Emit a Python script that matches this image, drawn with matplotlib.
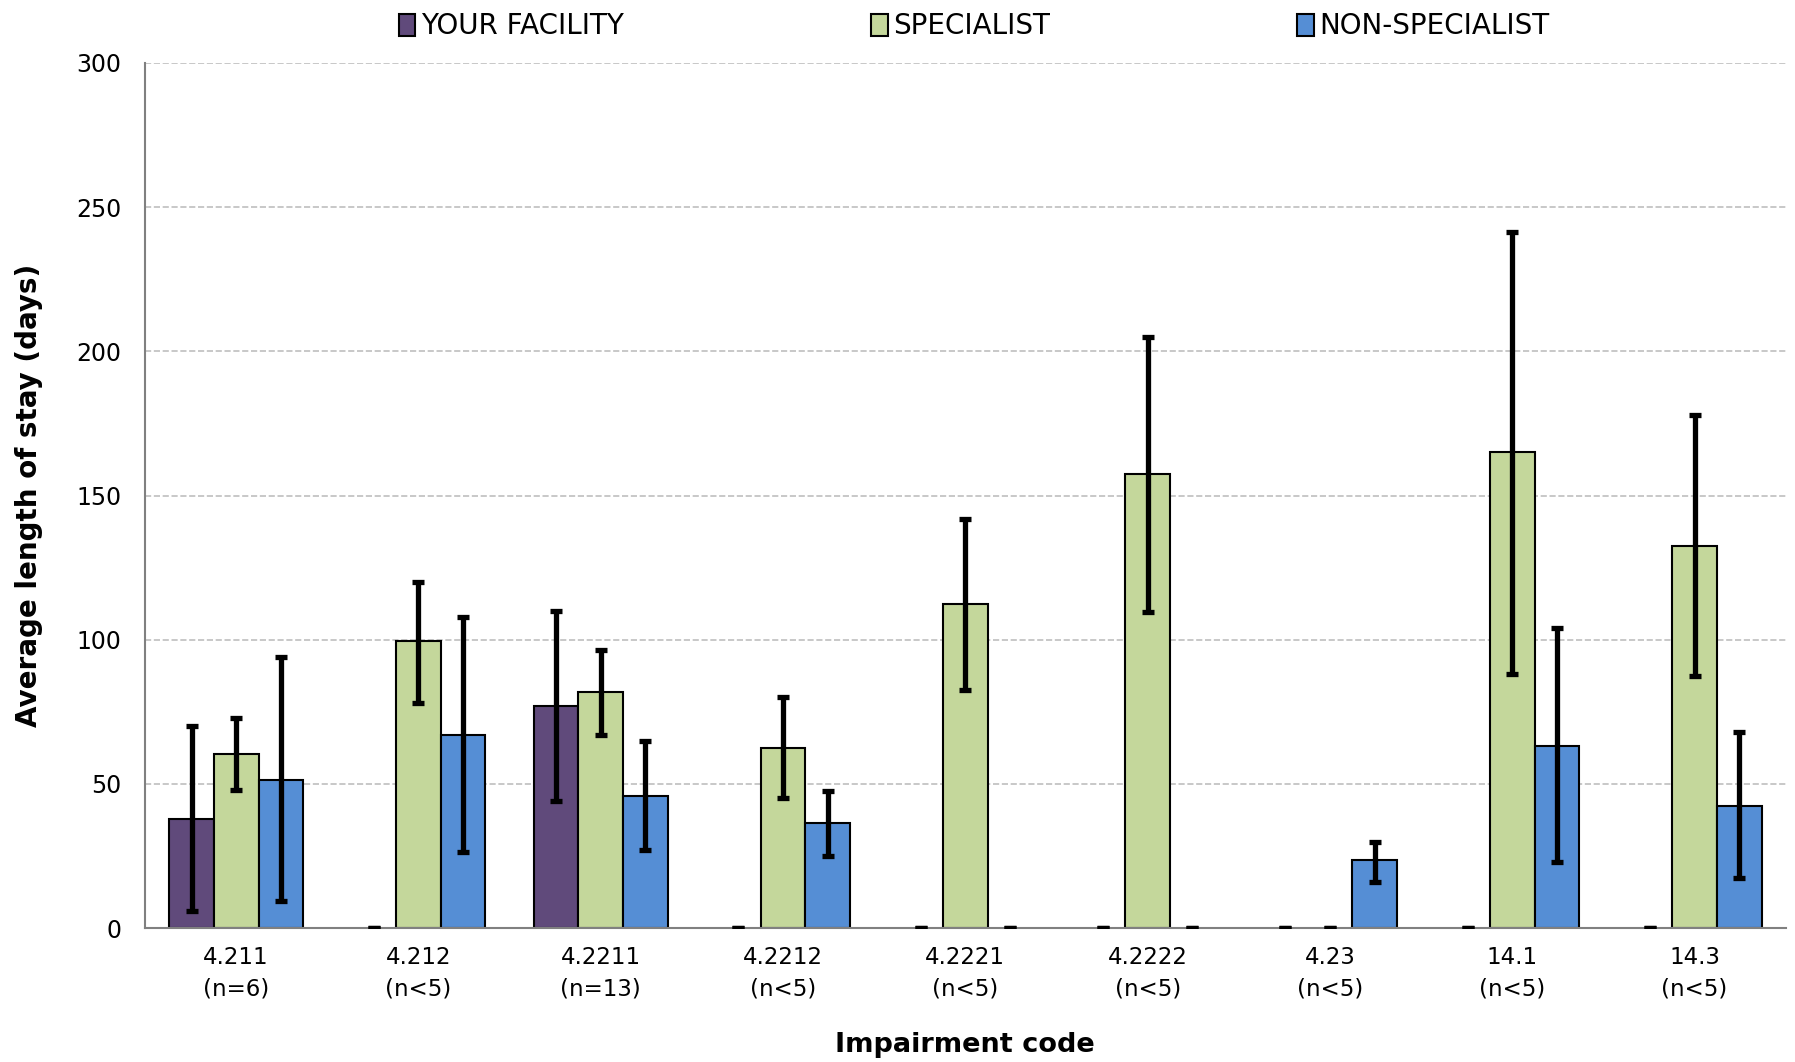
import matplotlib.pyplot as plt
import numpy as np

codes = ["4.211\n(n=6)", "4.212\n(n<5)", "4.2211\n(n=13)", "4.2212\n(n<5)", "4.2221\n(n<5)",
         "4.2222\n(n<5)", "4.23\n(n<5)", "14.1\n(n<5)", "14.3\n(n<5)"]

facility = [38, 0, 77, 0, 0, 0, 0, 0, 0]
facility_lo = [6, 0, 44, 0, 0, 0, 0, 0, 0]
facility_hi = [70, 0, 110, 0, 0, 0, 0, 0, 0]

specialist = [60.5, 99.5, 82, 62.5, 112.5, 157.5, 0, 165, 132.5]
specialist_lo = [48, 78, 67, 45, 82.5, 109.5, 0, 88, 87.5]
specialist_hi = [73, 120, 96.5, 80, 142, 205, 0, 241.5, 178]

nonspec = [51.5, 67, 46, 36.5, 0, 0, 23.5, 63, 42.5]
nonspec_lo = [9.5, 26.5, 27, 25, 0, 0, 16, 23, 17.5]
nonspec_hi = [94, 108, 65, 47.5, 0, 0, 30, 104, 68]

series = [("YOUR FACILITY", facility, facility_lo, facility_hi, "#604A7B"),
          ("SPECIALIST", specialist, specialist_lo, specialist_hi, "#C4D79B"),
          ("NON-SPECIALIST", nonspec, nonspec_lo, nonspec_hi, "#558ED5")]

fig = plt.figure(figsize=(17.95, 10.62), dpi=100)
ax = fig.add_axes([0.0808, 0.126, 0.914, 0.8147])

x = np.arange(len(codes))
w = 0.245
for i, (name, vals, lo, hi, col) in enumerate(series):
    pos = x + (i - 1) * w
    vals = np.array(vals, dtype=float)
    lws = [1.5 if v > 0 else 0 for v in vals]
    ax.bar(pos, vals, w, color=col, edgecolor="black", linewidth=lws, label=name, zorder=2)
    yerr = [vals - np.array(lo), np.array(hi) - vals]
    ax.errorbar(pos, vals, yerr=yerr, fmt="none", ecolor="black", elinewidth=3.8,
                capsize=4.5, capthick=3.8, zorder=3)

ax.set_xlim(-0.5, len(codes) - 0.5)
ax.set_ylim(0, 300)
ax.set_yticks(range(0, 301, 50))
ax.set_xticks(x)
ax.set_xticklabels(codes, fontsize=16.5, linespacing=1.45)
ax.tick_params(axis="y", labelsize=17, length=0, pad=17)
ax.tick_params(axis="x", length=0, pad=13)
ax.yaxis.grid(True, linestyle="--", color="#BFBFBF", linewidth=1.2, zorder=0)
ax.set_axisbelow(True)
for s in ["top", "right"]:
    ax.spines[s].set_visible(False)
ax.spines["left"].set_color("#808080")
ax.spines["bottom"].set_color("#808080")
ax.spines["left"].set_linewidth(1.5)
ax.spines["bottom"].set_linewidth(1.5)

ax.set_ylabel("Average length of stay (days)", fontsize=20, fontweight="bold", labelpad=24)
ax.set_xlabel("Impairment code", fontsize=19.5, fontweight="bold", labelpad=23)

fig.legend(loc="upper center", bbox_to_anchor=(0.5427, 1.012), ncol=3, frameon=False,
           fontsize=20, handlelength=0.6, handleheight=0.85, handletextpad=0.2,
           columnspacing=8.9)

fig.savefig("out.png", dpi=100)
